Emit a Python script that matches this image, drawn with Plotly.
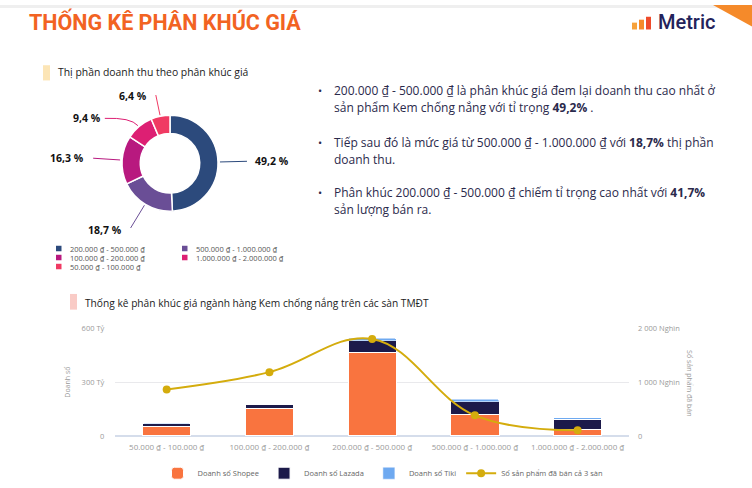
import math
import plotly.graph_objects as go

# ---------------- data ----------------
pie_labels = ["200.000 ₫ - 500.000 ₫", "500.000 ₫ - 1.000.000 ₫", "100.000 ₫ - 200.000 ₫",
              "1.000.000 ₫ - 2.000.000 ₫", "50.000 ₫ - 100.000 ₫"]
pie_values = [49.2, 18.7, 16.3, 9.4, 6.4]
pie_colors = ["#2C4A7C", "#6A4E96", "#B8197F", "#DD1F73", "#F03A63"]

categories = ["50.000 ₫ - 100.000 ₫", "100.000 ₫ - 200.000 ₫", "200.000 ₫ - 500.000 ₫",
              "500.000 ₫ - 1.000.000 ₫", "1.000.000 ₫ - 2.000.000 ₫"]
shopee = [55, 155, 463, 118, 37]
lazada = [13, 21, 67, 73, 56]
tiki = [2, 3, 14, 14, 9]
sold = [864, 1185, 1802, 383, 105]

left_ticks = [0, 300, 600]
left_tick_text = ["0", "300 Tỷ", "600 Tỷ"]
right_ticks = [0, 1000, 2000]
right_tick_text = ["0", "1 000 Nghìn", "2 000 Nghìn"]

W, H = 752, 488
FONT = "Open Sans"
TXT = "#2B2A4C"
GRAY = "#9A9A9A"


def px(x):
    return x / W


def py(y):
    return 1 - y / H


fig = go.Figure()

# ---------------- donut ----------------
cx, cy, R = 170, 161.5, 49
fig.add_trace(go.Pie(
    labels=pie_labels, values=pie_values, hole=0.62, sort=False, direction="clockwise",
    rotation=0, marker=dict(colors=pie_colors, line=dict(color="white", width=1.5)),
    textinfo="none", hoverinfo="label+percent", showlegend=False,
    domain=dict(x=[px(cx - R), px(cx + R)], y=[py(cy + R), py(cy - R)]),
))

shapes = []
annotations = []

# leader lines and labels computed from slice mid angles
total = sum(pie_values)
cum = 0
for v, c in zip(pie_values, pie_colors):
    mid = (cum + v / 2) / total * 2 * math.pi
    cum += v
    sx, sy = math.sin(mid), -math.cos(mid)
    x0, y0 = cx + (R + 1) * sx, cy + (R + 1) * sy
    if abs(sx) < 0.3:
        L, hext = 22, 0
    elif sy < -0.5:
        L, hext = 12, 26
    else:
        L, hext = 28, 0
    x1, y1 = cx + (R + L) * sx, cy + (R + L) * sy
    x2, y2 = x1 + hext * (1 if sx > 0 else -1), y1 + (1 if hext else 0)
    path = "M %f %f Q %f %f %f %f" % (px(x0), py(y0), px(x1), py(y1), px(x2), py(y2)) if hext else \
        "M %f %f L %f %f" % (px(x0), py(y0), px(x2), py(y2))
    shapes.append(dict(type="path", xref="paper", yref="paper", path=path, line=dict(color=c, width=1)))
    right = sx > 0.3
    gap = 6 if right else (-2 if hext else -7)
    annotations.append(dict(
        xref="paper", yref="paper", x=px(x2 + gap),
        y=py(y2 + (0 if (abs(sx) > 0.9 or hext) else (2 if sy > 0 else 1))),
        text="<b>%s %%</b>" % (("%.1f" % v).replace(".", ",")),
        showarrow=False, xanchor="left" if right else "right", yanchor="middle",
        font=dict(family=FONT, size=10.5, color="#111111")))

# manual two-column legend for the donut
leg_pos = [(56, 248.6), (182, 248.6), (56, 257.8), (182, 257.8), (56, 267.0)]
for (lx, ly), lab, c in zip(leg_pos, pie_labels, pie_colors):
    shapes.append(dict(type="rect", xref="paper", yref="paper", x0=px(lx), x1=px(lx + 5.5),
                       y0=py(ly + 2.8), y1=py(ly - 2.8), fillcolor=c, line=dict(width=0)))
    annotations.append(dict(xref="paper", yref="paper", x=px(lx + 13), y=py(ly), text=lab,
                            showarrow=False, xanchor="left", yanchor="middle", borderpad=0,
                            font=dict(family=FONT, size=7.5, color="#555555")))

# ---------------- bar chart ----------------
fig.add_trace(go.Bar(x=categories, y=shopee, name="Doanh số Shopee",
                     marker=dict(color="#F9743F", line=dict(color="white", width=1), cornerradius=2)))
fig.add_trace(go.Bar(x=categories, y=lazada, name="Doanh số Lazada",
                     marker=dict(color="#1C1A4A", line=dict(color="white", width=1))))
fig.add_trace(go.Bar(x=categories, y=tiki, name="Doanh số Tiki",
                     marker=dict(color="#6EA9F0", line=dict(color="white", width=0.5))))
fig.add_trace(go.Scatter(x=categories, y=sold, name="Số sản phẩm đã bán cả 3 sàn", yaxis="y2",
                         mode="lines+markers",
                         line=dict(color="#D4AC0D", width=2, shape="spline", smoothing=1.1),
                         marker=dict(size=8, color="#D4AC0D")))

x_dom = [px(115.3), px(629)]
y_dom = [py(440), py(330)]

fig.update_layout(
    width=W, height=H, margin=dict(l=0, r=0, t=0, b=0),
    paper_bgcolor="white", plot_bgcolor="white",
    barmode="stack", bargap=0.53,
    font=dict(family=FONT, color=TXT),
    xaxis=dict(domain=x_dom, showgrid=False, showline=False, ticks="", fixedrange=True,
               ticklabelstandoff=5, tickfont=dict(family=FONT, size=8, color=GRAY)),
    yaxis=dict(domain=y_dom, range=[0, 600], tickvals=left_ticks, ticktext=left_tick_text,
               showgrid=True, gridcolor="#E9E9EC", gridwidth=1, zeroline=True, zerolinecolor="#D5DDEB",
               zerolinewidth=1.5, ticks="", ticklabelstandoff=10,
               tickfont=dict(family=FONT, size=7.5, color=GRAY),
               title=dict(text="Doanh số", font=dict(family=FONT, size=7, color=GRAY), standoff=10)),
    yaxis2=dict(domain=y_dom, range=[0, 2000], overlaying="y", side="right", tickvals=right_ticks,
                ticktext=right_tick_text, showgrid=False, zeroline=False, ticks="", ticklabelstandoff=8,
                tickfont=dict(family=FONT, size=7.5, color=GRAY)),
    legend=dict(orientation="h", x=px(383), xanchor="center", y=py(478), yanchor="middle",
                font=dict(family=FONT, size=7.5, color="#666666"), itemwidth=30, traceorder="normal",
                bgcolor="rgba(0,0,0,0)"),
)

# right axis title reading top to bottom
annotations.append(dict(xref="paper", yref="paper", x=px(690), y=py(386), text="Số sản phẩm đã bán",
                        textangle=90, showarrow=False, xanchor="center", yanchor="middle",
                        font=dict(family=FONT, size=7, color=GRAY)))

# ---------------- header ----------------
shapes.append(dict(type="rect", xref="paper", yref="paper", x0=0, x1=1, y0=py(3), y1=1,
                   fillcolor="#EFEFEF", line=dict(width=0), layer="below"))
shapes.append(dict(type="path", xref="paper", yref="paper",
                   path="M %f %f L %f %f L %f %f Z" % (px(713), py(0), px(752), py(0), px(752), py(22)),
                   fillcolor="#F58A2A", line=dict(width=0)))
annotations.append(dict(xref="paper", yref="paper", x=px(27), y=py(16.5), text="<b>THỐNG KÊ PHÂN KHÚC GIÁ</b>",
                        showarrow=False, xanchor="left", yanchor="middle",
                        font=dict(family="Roboto", size=21.5, color="#F26322")))
# logo bars
for (bx0, bx1, btop, bc) in [(632, 637, 18, "#F7A23B"), (639, 644, 15, "#F58A2A"), (646, 651, 12, "#EE4B2B")]:
    shapes.append(dict(type="rect", xref="paper", yref="paper", x0=px(bx0), x1=px(bx1),
                       y0=py(25), y1=py(btop), fillcolor=bc, line=dict(width=0)))
annotations.append(dict(xref="paper", yref="paper", x=px(656), y=py(17), text="Metric",
                        showarrow=False, xanchor="left", yanchor="middle",
                        font=dict(family="Roboto", size=20, color="#23235B", weight=500)))

# section titles
shapes.append(dict(type="rect", xref="paper", yref="paper", x0=px(43), x1=px(50), y0=py(77), y1=py(61.5),
                   fillcolor="#FCE5B6", line=dict(width=0)))
annotations.append(dict(xref="paper", yref="paper", x=px(56), y=py(68.5),
                        text="Thị phần doanh thu theo phân khúc giá",
                        showarrow=False, xanchor="left", yanchor="middle",
                        font=dict(family=FONT, size=10.4, color="#222222")))
shapes.append(dict(type="rect", xref="paper", yref="paper", x0=px(70), x1=px(77), y0=py(311), y1=py(295),
                   fillcolor="#F9CBC6", line=dict(width=0)))
annotations.append(dict(xref="paper", yref="paper", x=px(83), y=py(304),
                        text="Thống kê phân khúc giá ngành hàng Kem chống nắng trên các sàn TMĐT",
                        showarrow=False, xanchor="left", yanchor="middle",
                        font=dict(family=FONT, size=10.2, color="#222222")))

# bullet text
lines = [
    (87, "200.000 ₫ - 500.000 ₫ là phân khúc giá đem lại doanh thu cao nhất ở", True),
    (105, "sản phẩm Kem chống nắng với tỉ trọng <b>49,2%</b> .", False),
    (140, "Tiếp sau đó là mức giá từ 500.000 ₫ - 1.000.000 ₫ với <b>18,7%</b> thị phần", True),
    (157.5, "doanh thu.", False),
    (191, "Phân khúc 200.000 ₫ - 500.000 ₫ chiếm tỉ trọng cao nhất với <b>41,7%</b>", True),
    (208.5, "sản lượng bán ra.", False),
]
for ly, t, bullet in lines:
    annotations.append(dict(xref="paper", yref="paper", x=px(332), y=py(ly), text=t, showarrow=False,
                            xanchor="left", yanchor="middle", font=dict(family=FONT, size=12, color=TXT)))
    if bullet:
        annotations.append(dict(xref="paper", yref="paper", x=px(320), y=py(ly), text="•", showarrow=False,
                                xanchor="center", yanchor="middle", font=dict(family=FONT, size=11, color=TXT)))

fig.update_layout(shapes=shapes, annotations=annotations)
fig.write_html("out.html")
